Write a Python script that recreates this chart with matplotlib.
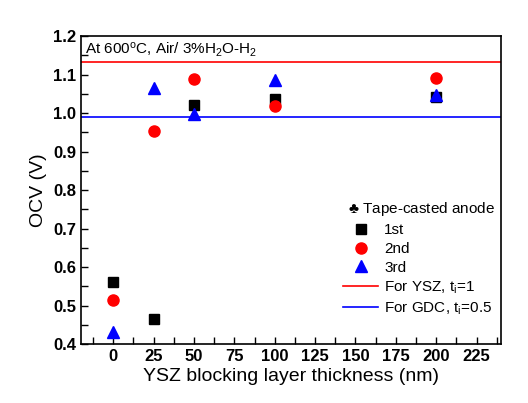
import matplotlib
matplotlib.use('Agg')
import matplotlib.pyplot as plt

plt.rcParams['font.family'] = ['Liberation Sans', 'DejaVu Sans']
plt.rcParams['mathtext.fontset'] = 'custom'
plt.rcParams['mathtext.rm'] = 'Liberation Sans'
plt.rcParams['mathtext.it'] = 'Liberation Sans:italic'

# ========== DATA ==========
thickness = [0, 25, 50, 100, 200]
ocv_1st = [0.560, 0.466, 1.022, 1.037, 1.042]
ocv_2nd = [0.515, 0.953, 1.089, 1.019, 1.092]
ocv_3rd = [0.430, 1.064, 0.998, 1.087, 1.048]
ocv_ysz = 1.132
ocv_gdc = 0.991

fig = plt.figure(figsize=(5.28, 4.03), dpi=100)
ax = fig.add_axes([0.1534, 0.1464, 0.795, 0.764])

ax.axhline(ocv_ysz, color='red', lw=1.2, label='For YSZ, t$_{\\rm i}$=1')
ax.axhline(ocv_gdc, color='blue', lw=1.2, label='For GDC, t$_{\\rm i}$=0.5')
ax.plot(thickness, ocv_1st, 's', color='black', ms=7, label='1st', zorder=3)
ax.plot(thickness, ocv_2nd, 'o', color='red', ms=8, label='2nd', zorder=3)
ax.plot(thickness, ocv_3rd, '^', color='blue', ms=8.5, label='3rd', zorder=4)

ax.set_xlim(-20, 240)
ax.set_ylim(0.4, 1.2)
ax.set_xticks(range(0, 226, 25))
ax.set_xticks([-12.5 + 25 * i for i in range(11)], minor=True)
ax.set_yticks([0.4 + 0.1 * i for i in range(9)])
ax.set_yticks([0.45 + 0.1 * i for i in range(8)], minor=True)
ax.tick_params(which='both', direction='in', length=5, width=1, top=False, right=False)
for lab in ax.get_xticklabels() + ax.get_yticklabels():
    lab.set_fontweight('bold')
    lab.set_fontsize(12)
for s in ax.spines.values():
    s.set_linewidth(1.2)

ax.set_xlabel('YSZ blocking layer thickness (nm)', fontsize=14, labelpad=3)
ax.set_ylabel('OCV (V)', fontsize=14, labelpad=4)

ax.text(0.01, 0.985, 'At 600$^{\\rm o}$C, Air/ 3%H$_2$O-H$_2$', transform=ax.transAxes,
        ha='left', va='top', fontsize=11)

h, l = ax.get_legend_handles_labels()
order = [2, 3, 4, 0, 1]
ax.legend([h[i] for i in order], [l[i] for i in order], loc='lower right',
          bbox_to_anchor=(1.0, 0.062), frameon=False, fontsize=11,
          handlelength=2.3, handletextpad=0.4, labelspacing=0.3, borderaxespad=0.15)
ax.text(0.635, 0.44, '$\\clubsuit$ Tape-casted anode', transform=ax.transAxes,
        ha='left', va='center', fontsize=11)

plt.savefig('out.png', dpi=100)
plt.close()
